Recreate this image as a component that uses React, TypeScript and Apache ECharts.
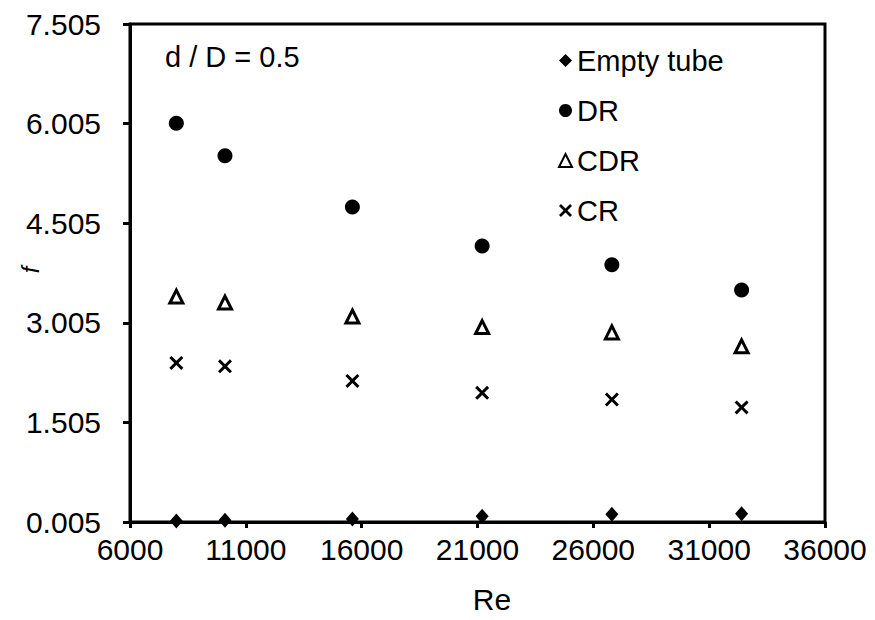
import React, { useEffect, useRef } from "react";
import * as echarts from "echarts";

const reValues = [8000, 10100, 15600, 21200, 26800, 32400];
const emptyTube = [0.02, 0.03, 0.05, 0.09, 0.12, 0.13];
const drValues = [6.01, 5.52, 4.75, 4.16, 3.88, 3.5];
const cdrValues = [3.4, 3.31, 3.1, 2.94, 2.86, 2.65];
const crValues = [2.4, 2.35, 2.13, 1.95, 1.85, 1.73];
const seriesNames = ["Empty tube", "DR", "CDR", "CR"];

const xMin = 6000;
const xMax = 36000;
const xStep = 5000;
const yMin = 0.005;
const yMax = 7.505;
const yStep = 1.5;

const crossPath =
  "path://M0,3 L3,0 L10,7 L17,0 L20,3 L13,10 L20,17 L17,20 L10,13 L3,20 L0,17 L7,10 Z";

const pair = (ys: number[]) => reValues.map((x, i) => [x, ys[i]]);

export default function App() {
  const ref = useRef<HTMLDivElement>(null);
  useEffect(() => {
    if (!ref.current) return;
    const chart = echarts.init(ref.current, null, { renderer: "svg" });
    const font = "'Liberation Sans', Arial, sans-serif";
    chart.setOption({
      animation: false,
      backgroundColor: "#fff",
      textStyle: { fontFamily: font, color: "#000" },
      grid: {
        left: 130,
        right: 50,
        top: 24,
        bottom: 98,
        show: true,
        borderColor: "#000",
        borderWidth: 3,
      },
      xAxis: {
        type: "value",
        min: xMin,
        max: xMax,
        interval: xStep,
        splitLine: { show: false },
        axisLine: { lineStyle: { color: "#000", width: 3 } },
        axisTick: { show: true, inside: false, length: 6, lineStyle: { width: 3, color: "#000" } },
        axisLabel: {
          color: "#000",
          fontSize: 30,
          fontFamily: font,
          margin: 12,
          formatter: (v: number) => String(Math.round(v)),
        },
      },
      yAxis: {
        type: "value",
        min: yMin,
        max: yMax,
        interval: yStep,
        splitLine: { show: false },
        axisLine: { lineStyle: { color: "#000", width: 3 } },
        axisTick: { show: true, inside: false, length: 7, lineStyle: { width: 3, color: "#000" } },
        axisLabel: {
          color: "#000",
          fontSize: 30,
          fontFamily: font,
          margin: 29,
          formatter: (v: number) => v.toFixed(3),
        },
      },
      legend: {
        orient: "vertical",
        left: 553,
        top: 41,
        itemGap: 21,
        itemWidth: 13,
        itemHeight: 13,
        data: seriesNames,
        textStyle: { fontSize: 29, fontFamily: font, color: "#000", lineHeight: 28 },
      },
      graphic: [
        {
          type: "text",
          left: 165,
          top: 42,
          style: { text: "d / D = 0.5", fontSize: 29, fontFamily: font, fill: "#000" },
        },
        {
          type: "text",
          x: 492,
          y: 599,
          style: {
            text: "Re",
            fontSize: 30,
            fontFamily: font,
            fill: "#000",
            align: "center",
            verticalAlign: "middle",
          },
        },
        {
          type: "text",
          x: 30,
          y: 270,
          rotation: Math.PI / 2,
          style: {
            text: "f",
            fontSize: 24,
            fontStyle: "italic",
            fontFamily: font,
            fill: "#000",
            align: "center",
            verticalAlign: "middle",
          },
        },
      ],
      series: [
        {
          name: seriesNames[0],
          type: "scatter",
          clip: false,
          symbol: "diamond",
          symbolSize: [13, 15],
          itemStyle: { color: "#000", opacity: 1 },
          data: pair(emptyTube),
        },
        {
          name: seriesNames[1],
          type: "scatter",
          clip: false,
          symbol: "circle",
          symbolSize: 15,
          itemStyle: { color: "#000", opacity: 1 },
          data: pair(drValues),
        },
        {
          name: seriesNames[2],
          type: "scatter",
          clip: false,
          symbol: "triangle",
          symbolSize: 13,
          itemStyle: { color: "#fff", borderColor: "#000", borderWidth: 3, opacity: 1 },
          data: pair(cdrValues),
        },
        {
          name: seriesNames[3],
          type: "scatter",
          clip: false,
          symbol: crossPath,
          symbolSize: 14,
          itemStyle: { color: "#000", opacity: 1 },
          data: pair(crValues),
        },
      ],
    });
    return () => chart.dispose();
  }, []);
  return (
    <div
      ref={ref}
      style={{ position: "fixed", left: 0, top: 0, width: 875, height: 620, background: "#fff" }}
    />
  );
}
